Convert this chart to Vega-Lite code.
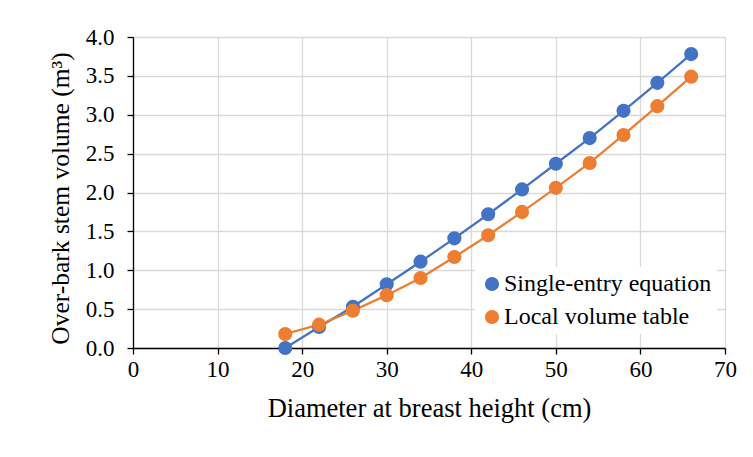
{
  "$schema": "https://vega.github.io/schema/vega-lite/v6.json",
  "width": 592,
  "height": 311,
  "autosize": {"type": "none"},
  "padding": {"left": 133, "top": 37, "right": 28, "bottom": 109},
  "background": "white",
  "config": {
    "font": "Liberation Serif",
    "view": {"stroke": null}
  },
  "data": {
    "values": [
      {"dbh": 18, "volume": 0.0, "series": "Single-entry equation"},
      {"dbh": 22, "volume": 0.27, "series": "Single-entry equation"},
      {"dbh": 26, "volume": 0.53, "series": "Single-entry equation"},
      {"dbh": 30, "volume": 0.82, "series": "Single-entry equation"},
      {"dbh": 34, "volume": 1.11, "series": "Single-entry equation"},
      {"dbh": 38, "volume": 1.41, "series": "Single-entry equation"},
      {"dbh": 42, "volume": 1.72, "series": "Single-entry equation"},
      {"dbh": 46, "volume": 2.04, "series": "Single-entry equation"},
      {"dbh": 50, "volume": 2.37, "series": "Single-entry equation"},
      {"dbh": 54, "volume": 2.70, "series": "Single-entry equation"},
      {"dbh": 58, "volume": 3.05, "series": "Single-entry equation"},
      {"dbh": 62, "volume": 3.41, "series": "Single-entry equation"},
      {"dbh": 66, "volume": 3.78, "series": "Single-entry equation"},
      {"dbh": 18, "volume": 0.18, "series": "Local volume table"},
      {"dbh": 22, "volume": 0.30, "series": "Local volume table"},
      {"dbh": 26, "volume": 0.48, "series": "Local volume table"},
      {"dbh": 30, "volume": 0.68, "series": "Local volume table"},
      {"dbh": 34, "volume": 0.90, "series": "Local volume table"},
      {"dbh": 38, "volume": 1.17, "series": "Local volume table"},
      {"dbh": 42, "volume": 1.45, "series": "Local volume table"},
      {"dbh": 46, "volume": 1.75, "series": "Local volume table"},
      {"dbh": 50, "volume": 2.06, "series": "Local volume table"},
      {"dbh": 54, "volume": 2.38, "series": "Local volume table"},
      {"dbh": 58, "volume": 2.74, "series": "Local volume table"},
      {"dbh": 62, "volume": 3.11, "series": "Local volume table"},
      {"dbh": 66, "volume": 3.49, "series": "Local volume table"}
    ]
  },
  "encoding": {
    "x": {
      "field": "dbh",
      "type": "quantitative",
      "scale": {"domain": [0, 70], "nice": false, "zero": true},
      "axis": {
        "title": "Diameter at breast height (cm)",
        "values": [0, 10, 20, 30, 40, 50, 60, 70],
        "labelFont": "Liberation Serif",
        "labelFontSize": 23,
        "labelColor": "#000000",
        "titleFont": "Liberation Serif",
        "titleFontSize": 26.5,
        "titleFontWeight": "normal",
        "titleColor": "#000000",
        "gridColor": "#d9d9d9",
        "gridWidth": 1.3,
        "domainColor": "#000000",
        "domainWidth": 1.3,
        "tickColor": "#000000",
        "tickWidth": 1.3,
        "tickSize": 6,
        "labelPadding": 4,
        "titlePadding": 14,
        "labelFlush": false
      }
    },
    "y": {
      "field": "volume",
      "type": "quantitative",
      "scale": {"domain": [0, 4], "nice": false},
      "axis": {
        "title": "Over-bark stem volume (m³)",
        "values": [0, 0.5, 1, 1.5, 2, 2.5, 3, 3.5, 4],
        "format": ".1f",
        "labelFont": "Liberation Serif",
        "labelFontSize": 23,
        "labelColor": "#000000",
        "titleFont": "Liberation Serif",
        "titleFontSize": 25.5,
        "titleFontWeight": "normal",
        "titleColor": "#000000",
        "titleY": 161,
        "gridColor": "#d9d9d9",
        "gridWidth": 1.3,
        "domainColor": "#000000",
        "domainWidth": 1.3,
        "tickColor": "#000000",
        "tickWidth": 1.3,
        "tickSize": 6,
        "labelPadding": 13,
        "titlePadding": 12,
        "labelFlush": false
      }
    },
    "color": {
      "field": "series",
      "type": "nominal",
      "scale": {
        "domain": ["Single-entry equation", "Local volume table"],
        "range": ["#4472C4", "#ED7D31"]
      },
      "legend": {
        "title": null,
        "orient": "none",
        "legendX": 342,
        "legendY": 230,
        "fillColor": "white",
        "padding": 5,
        "symbolType": "circle",
        "symbolSize": 200,
        "symbolOpacity": 1,
        "symbolStrokeWidth": 0,
        "labelFont": "Liberation Serif",
        "labelFontSize": 24,
        "labelColor": "#000000",
        "labelLimit": 400,
        "labelOffset": 0,
        "rowPadding": 9
      }
    }
  },
  "layer": [
    {
      "mark": {"type": "line", "strokeWidth": 2.25},
      "encoding": {"detail": {"field": "series"}}
    },
    {
      "mark": {"type": "point", "filled": true, "shape": "circle", "size": 200, "opacity": 1}
    }
  ]
}
